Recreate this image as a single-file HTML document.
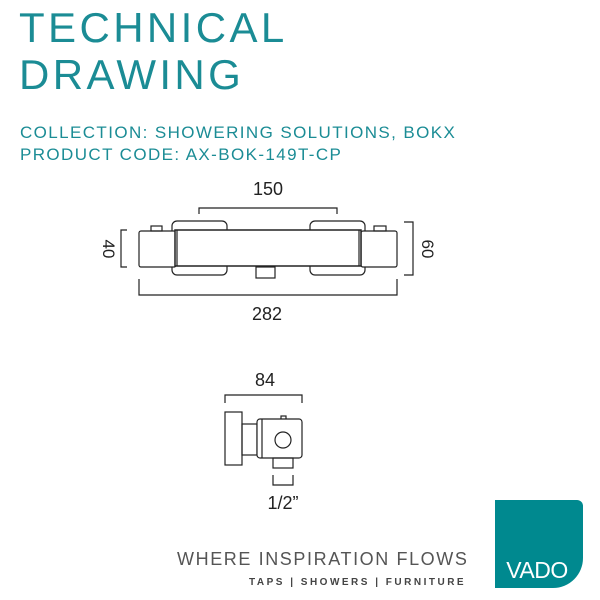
<!DOCTYPE html>
<html><head><style>
body{margin:0;width:600px;height:600px;background:#fff;overflow:hidden;position:relative;font-family:"Liberation Sans",sans-serif}
.t{position:absolute;color:#1b8c95;white-space:nowrap}
</style></head><body>
<div class="t" style="left:19px;top:6px;font-size:42px;letter-spacing:3.4px;line-height:44px">TECHNICAL</div>
<div class="t" style="left:19px;top:53px;font-size:42px;letter-spacing:3.4px;line-height:44px">DRAWING</div>
<div class="t" style="left:20px;top:123px;font-size:17px;letter-spacing:1.4px;line-height:20px">COLLECTION: SHOWERING SOLUTIONS, BOKX</div>
<div class="t" style="left:20px;top:145px;font-size:17px;letter-spacing:1.4px;line-height:20px">PRODUCT CODE: AX-BOK-149T-CP</div>
<svg width="600" height="600" style="position:absolute;left:0;top:0" font-family="Liberation Sans, sans-serif" fill="none" stroke="#222" stroke-width="1.2">
<polyline points="199,214 199,208 337,208 337,214"/>
<text x="268" y="195" font-size="18" fill="#222" stroke="none" text-anchor="middle">150</text>
<rect x="172" y="221" width="55" height="54" rx="5"/>
<rect x="310" y="221" width="55" height="54" rx="5"/>
<rect x="139" y="231" width="37" height="36" rx="2" fill="#fff"/>
<rect x="361" y="231" width="36" height="36" rx="2" fill="#fff"/>
<rect x="175" y="230" width="186" height="36" fill="#fff" stroke-width="1.5"/>
<line x1="177" y1="230" x2="177" y2="266"/><line x1="359" y1="230" x2="359" y2="266"/>
<rect x="151" y="226" width="11" height="5"/>
<rect x="374" y="226" width="12" height="5"/>
<rect x="256" y="267" width="19" height="11"/>
<polyline points="139,279 139,295 397,295 397,279"/>
<text x="267" y="320" font-size="18" fill="#222" stroke="none" text-anchor="middle">282</text>
<polyline points="127,230 121,230 121,267 127,267"/>
<text transform="translate(103,249) rotate(90)" font-size="17" fill="#222" stroke="none" text-anchor="middle">40</text>
<polyline points="404,222 413,222 413,275 404,275"/>
<text transform="translate(422,249) rotate(90)" font-size="17" fill="#222" stroke="none" text-anchor="middle">60</text>
<text x="265" y="386" font-size="18" fill="#222" stroke="none" text-anchor="middle">84</text>
<polyline points="225,403 225,395 302,395 302,403"/>
<rect x="225" y="412" width="17" height="53"/>
<rect x="242" y="424" width="15" height="31"/>
<rect x="281" y="416" width="5" height="4"/>
<rect x="257" y="419" width="45" height="39" rx="3" fill="#fff"/>
<line x1="262" y1="419" x2="262" y2="458"/>
<circle cx="283" cy="440" r="8"/>
<rect x="273" y="458" width="20" height="10"/>
<polyline points="273,475 273,485 293,485 293,475"/>
<text x="283" y="509" font-size="18" fill="#222" stroke="none" text-anchor="middle">1/2”</text>
</svg>
<div style="position:absolute;left:177px;top:548px;font-size:18px;color:#555;letter-spacing:1.6px;line-height:22px;white-space:nowrap">WHERE INSPIRATION FLOWS</div>
<div style="position:absolute;left:249px;top:577px;font-size:10px;font-weight:bold;color:#444;letter-spacing:2.5px;line-height:12px;white-space:nowrap">TAPS | SHOWERS | FURNITURE</div>
<div style="position:absolute;left:495px;top:500px;width:88px;height:88px;background:#00898f;border-top-right-radius:6px;border-bottom-right-radius:30px"></div>
<div style="position:absolute;left:497px;top:558px;width:80px;text-align:center;font-size:23px;color:#fff;line-height:24px;letter-spacing:-0.5px">VADO</div>
</body></html>
